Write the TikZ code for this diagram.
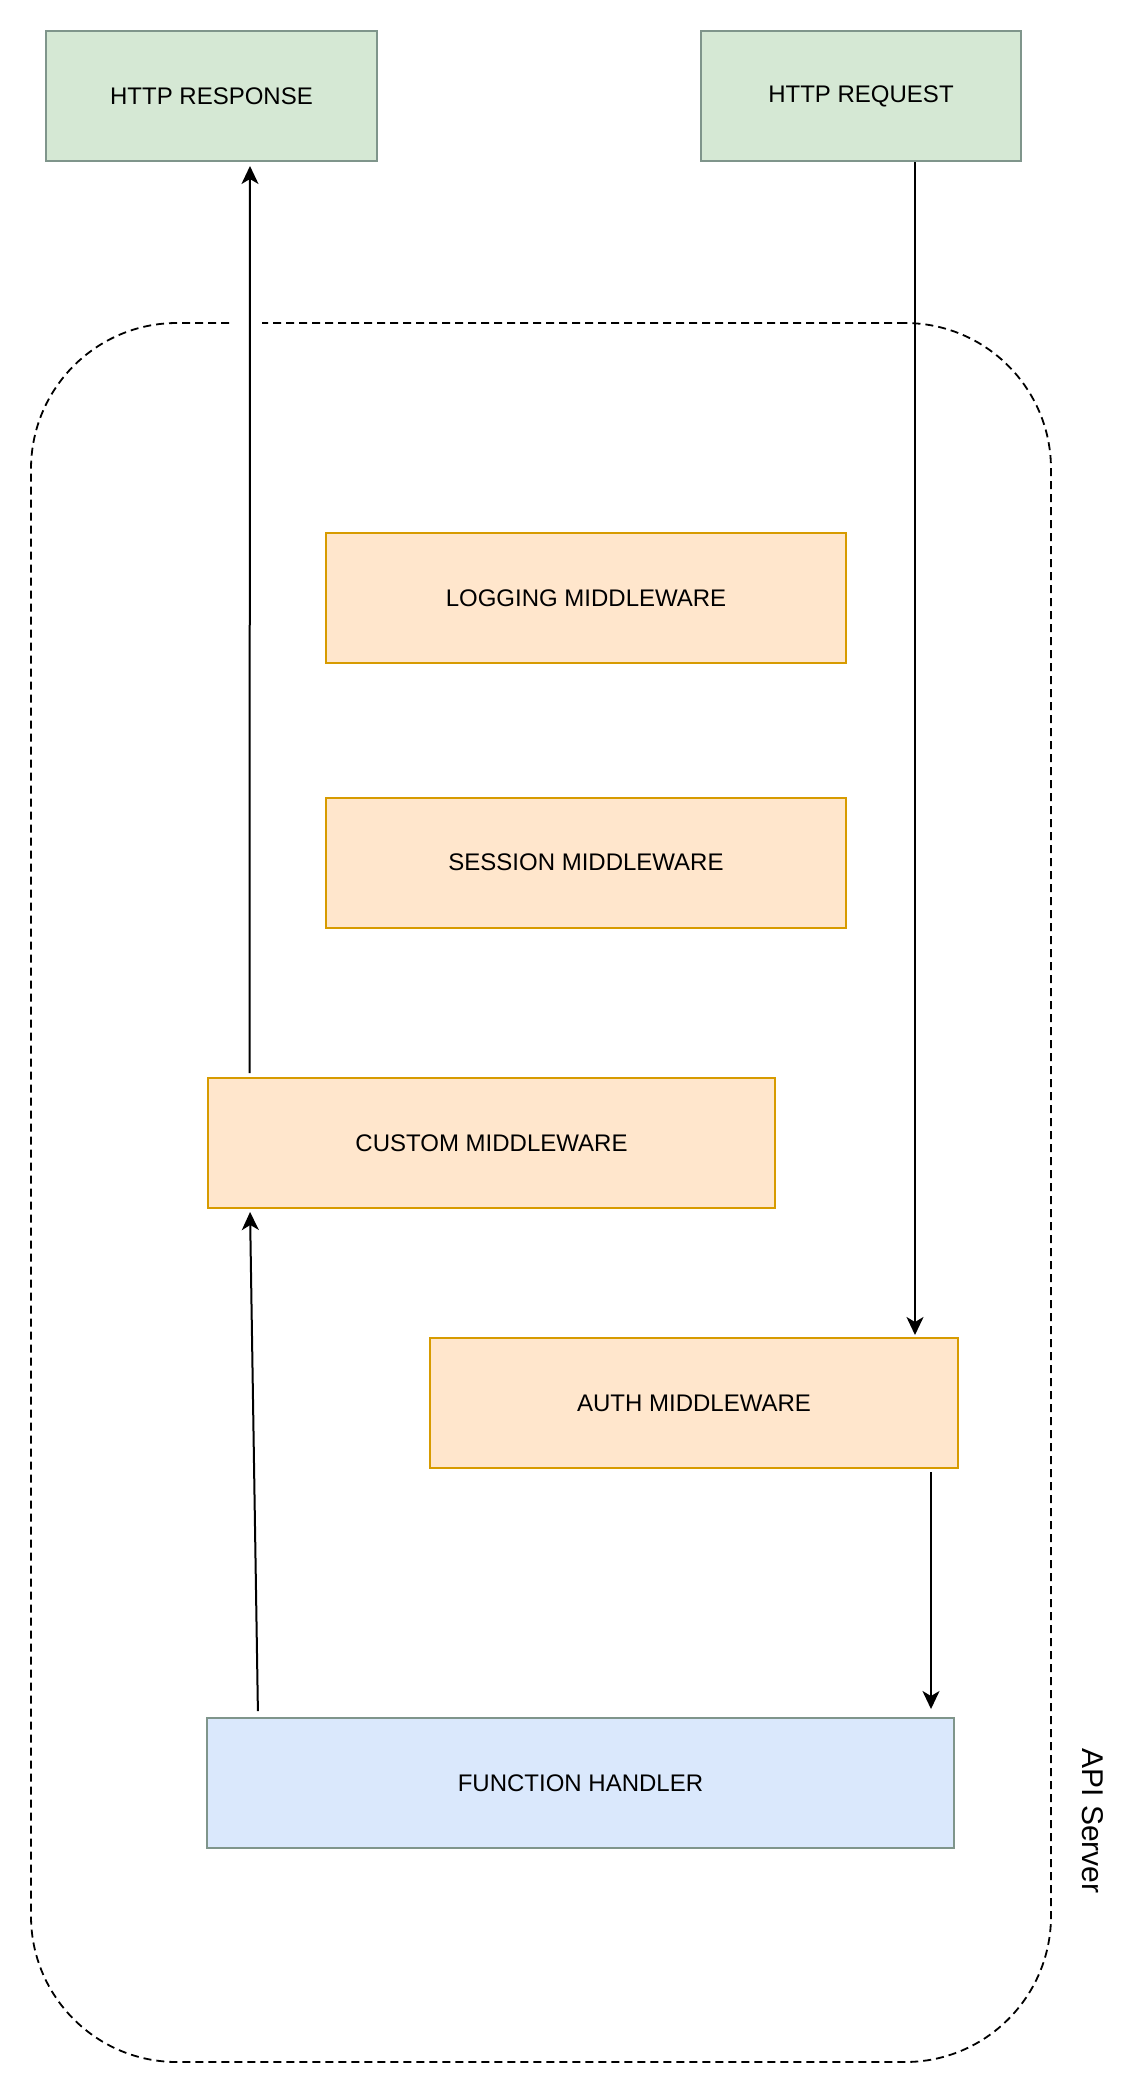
\documentclass[tikz,border=0pt]{standalone}
\usepackage{fontspec}
\setmainfont{Liberation Sans}
\usetikzlibrary{arrows.meta,calc}
\definecolor{grfill}{HTML}{D5E8D4}
\definecolor{grline}{HTML}{7F958B}
\definecolor{orfill}{HTML}{FFE6CC}
\definecolor{orline}{HTML}{D79B00}
\definecolor{blfill}{HTML}{DAE8FC}
\begin{document}
\begin{tikzpicture}[x=1pt,y=-1pt,
  box/.style={draw, line width=2pt, inner sep=0pt, minimum height=130pt,
    font=\fontsize{24}{28}\selectfont, text=black},
  httpbox/.style={box, fill=grfill, draw=grline},
  midbox/.style={box, fill=orfill, draw=orline},
  handlerbox/.style={box, fill=blfill, draw=grline},
  container/.style={draw=black, line width=1.8pt, dash pattern=on 8pt off 5pt,
    rounded corners=146pt, inner sep=0pt},
  arr/.style={line width=2pt, draw=black,
    -{Stealth[length=18pt,width=17pt,inset=5pt]}}]
\useasboundingbox (0,0) rectangle (1142,2094);

% container
\node[container, minimum width=1020pt, minimum height=1739pt] (srv) at (541,1192.5) {};
\node[rotate=-90, inner sep=0pt, font=\fontsize{30}{36}\selectfont] (srvlabel) at (1093,1821) {API Server};
\fill[white] (232,316) rectangle (262,330);

% boxes
\node[httpbox, minimum width=331pt] (resp) at (211.5,96) {HTTP RESPONSE};
\node[httpbox, minimum width=320pt] (req) at (861,96) {HTTP REQUEST};
\node[midbox, minimum width=520pt] (log) at (586,598) {LOGGING MIDDLEWARE};
\node[midbox, minimum width=520pt] (sess) at (586,862.5) {SESSION MIDDLEWARE};
\node[midbox, minimum width=567pt] (cust) at (491.5,1143) {CUSTOM MIDDLEWARE};
\node[midbox, minimum width=528pt] (auth) at (694,1403) {AUTH MIDDLEWARE};
\node[handlerbox, minimum width=747pt] (fh) at (580.5,1783) {FUNCTION HANDLER};

% connector columns
\coordinate (cx1) at (915,0);
\coordinate (cx2) at (931,0);

% arrows
\draw[arr, shorten >=2pt] (req.south -| cx1) -- (auth.north -| cx1);
\draw[arr, shorten <=3pt, shorten >=8pt] (auth.south -| cx2) -- (fh.north -| cx2);
\draw[arr, shorten <=6pt, shorten >=3pt] ($(fh.north west)+(52,0)$) -- ($(cust.south west)+(43,0)$);
\draw[arr, shorten <=4pt, shorten >=4pt] ($(cust.north west)+(42.5,0)$) -- ($(resp.south west)+(205,0)$);
\end{tikzpicture}
\end{document}
